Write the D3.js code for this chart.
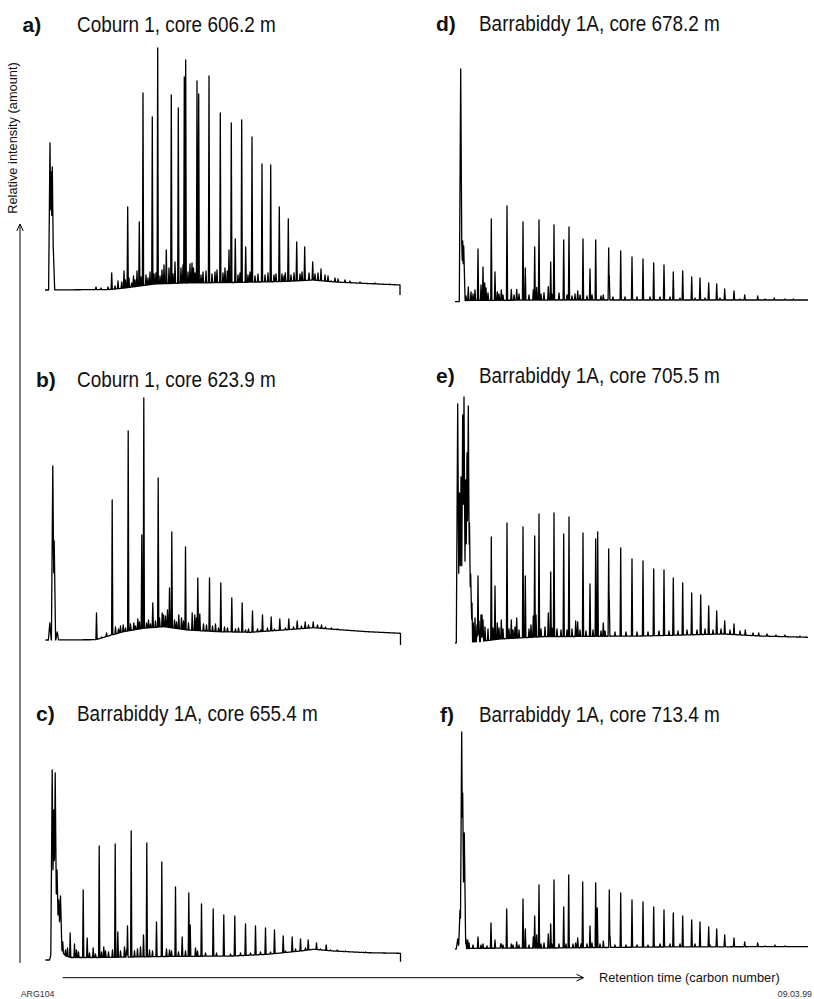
<!DOCTYPE html>
<html>
<head>
<meta charset="utf-8">
<script src="https://cdn.jsdelivr.net/npm/d3@7"></script>
<style>
  html, body { margin: 0; padding: 0; background: #fff; }
  svg { display: block; font-family: "Liberation Sans", Arial, Helvetica, sans-serif; }
</style>
</head>
<body>
<svg id="chart" width="814" height="999"></svg>
<script>
// Gas chromatograms of saturate fractions, six core samples.
// Retention is in relative units along each trace (0 = injection end of the trace),
// intensity is in relative units above the trace zero level.

const panelLabels = ["a)", "b)", "c)", "d)", "e)", "f)"];
const panelTitles = [
  "Coburn 1, core 606.2 m",
  "Coburn 1, core 623.9 m",
  "Barrabiddy 1A, core 655.4 m",
  "Barrabiddy 1A, core 678.2 m",
  "Barrabiddy 1A, core 705.5 m",
  "Barrabiddy 1A, core 713.4 m"
];
const yAxisLabel = "Relative intensity (amount)";
const xAxisLabel = "Retention time (carbon number)";
const figureCode = "ARG104";
const figureDate = "09.03.99";

// ---- a) Coburn 1, 606.2 m ----
const solventA = [[5, 147], [6.2, 118], [7.3, 123], [8.3, 42]];
const baselineA = [[0, 0], [65, 0.5], [80, 2], [95, 4], [110, 6], [140, 7], [190, 7.5], [240, 8.5], [268, 10], [290, 8], [322, 6.5], [355, 5]];
const peaksA = [[51, 3], [66.7, 17], [79, 19], [82.7, 83], [92, 19], [94.3, 68], [98, 197], [107.3, 173], [112.7, 242], [121.3, 40],
  [126.3, 195], [133.3, 182], [139.3, 213], [140.7, 230], [152, 209], [153.7, 196], [164, 214], [175.3, 177], [184, 40], [186.3, 167],
  [190.3, 51], [196.7, 170], [200.7, 43], [207, 153], [217, 126], [225.7, 125], [234.3, 83], [240.3, 17], [243.3, 71], [251.7, 48],
  [259.7, 43], [267.7, 28], [276, 21], [286, 9], [298.3, 5], [312.3, 3]];
const minorA = [[56, 2], [63, 3], [70, 4], [73, 9], [76.7, 8], [80.5, 10], [84, 12], [86.7, 7], [88.5, 14], [90, 10], [96, 13], [101, 15],
  [103, 12], [105, 18], [109, 16], [111, 17], [115, 14], [117, 20], [119, 25], [124, 22], [128, 16], [130, 28], [136, 22], [138, 25],
  [143, 18], [145, 26], [147, 27], [148.5, 22], [150, 17], [156, 15], [158, 18], [161, 19], [167, 16], [170, 18], [172, 20], [178, 17],
  [180, 22], [182.3, 19], [193, 15], [195, 17], [203, 15], [205, 18], [210, 14], [213, 16], [220, 15], [223, 17], [229, 15], [231, 16],
  [237, 16], [239, 14], [246, 15], [249, 17], [255, 16], [257, 18], [264, 17], [270, 16], [273, 17], [280, 15], [283, 14], [290, 12],
  [293, 11], [300, 10], [305, 9], [315, 8], [330, 7], [345, 6]];
const endDropA = -5;

// ---- b) Coburn 1, 623.9 m ----
const solventB = [[4.3, 17], [7.3, 174], [8.7, 99], [11.7, 8]];
const baselineB = [[0, 0], [50, 0.3], [55, 1.7], [78, 8.3], [98, 11.7], [118, 13.3], [142, 10], [172, 8.3], [205, 7.7], [238, 10], [268, 12.3], [288, 10.7], [322, 8.3], [355, 6.7]];
const peaksB = [[51, 27], [66.7, 140], [82.7, 209], [96.3, 105], [98.3, 242], [107.3, 37], [112.7, 162], [124, 52], [126.3, 108], [133.3, 25],
  [140, 93], [152.3, 62], [164, 62], [175.3, 57], [186.3, 42], [196.7, 37], [207, 29], [217, 25], [225.7, 23], [234.3, 21], [243.3, 21],
  [251.7, 19], [259.7, 18], [267.7, 18], [276, 15], [286, 12]];
const minorB = [[56, 3], [61, 7], [66, 6], [70, 13], [73, 11], [75, 14], [77.7, 15], [80, 12], [85, 16], [88.3, 17], [90, 14], [92.3, 21],
  [94, 18], [101, 17], [103, 20], [105, 16], [110, 19], [114, 22], [116.7, 27], [118, 25], [120, 24], [122, 30], [129, 20], [131, 18],
  [136, 22], [138, 19], [143, 17], [146.7, 27], [149.3, 25], [151, 22], [154.3, 26], [158, 16], [161, 15], [167, 14], [170, 16], [173, 12],
  [179, 13], [182, 12], [190, 11], [193, 12], [200, 10], [203, 11], [212, 11], [215, 10], [222, 12], [229, 11], [240, 12], [248, 13],
  [256, 14], [263, 15], [272, 15], [280, 13], [292, 11], [300, 9], [315, 8], [335, 7]];
const endDropB = -5;

// ---- c) Barrabiddy 1A, 655.4 m ----
const solventC = [[6.7, 190], [8.2, 150], [9.7, 187], [11.5, 90], [13.3, 60], [15, 64]];
const baselineC = [[0, 0], [4, 0], [12, 30], [14, 20], [17, 8], [20, 4], [25, 2.5], [55, 2.5], [120, 3.5], [188, 4], [222, 5.7], [255, 9], [268, 10.7], [288, 9], [322, 7.3], [355, 6.7]];
const peaksC = [[17.3, 18], [24.7, 27], [37.7, 70], [41.7, 22], [53.7, 114], [69.7, 116], [72.3, 28], [82, 34], [85.7, 129], [98, 25],
  [101.3, 117], [111, 38], [116.3, 98], [130, 73], [136.7, 23], [143.3, 67], [144.7, 35], [156, 56], [167.7, 51], [178.3, 45], [189.3, 44],
  [200, 36], [210, 34], [220, 32], [229, 30], [237.7, 24], [246.7, 23], [255, 21], [262.7, 20], [271, 17], [280.7, 15], [291.7, 10], [305, 8]];
const minorC = [[20, 10], [22, 12], [29, 16], [31, 10], [33, 8], [44, 7], [47.7, 12], [50, 6], [56, 8], [58.3, 13], [60, 9], [63, 8],
  [67, 10], [75, 9], [79, 13], [81, 10], [89, 9], [92, 11], [95, 13], [104, 10], [107, 9], [121, 11], [124, 10], [126, 9], [133, 8],
  [140, 9], [150, 12], [152, 9], [160, 7], [171, 7], [185, 6], [195, 7], [205, 7], [215, 8], [225, 8], [240, 9], [250, 11], [260, 12],
  [275, 11], [285, 10], [300, 9], [320, 8], [340, 7]];
const endDropC = -1.7;

// ---- d) Barrabiddy 1A, 678.2 m ----
const solventD = [[5.7, 233], [7, 50], [7.7, 61], [8.7, 56]];
const baselineD = [[0, 0.3], [4, 0.5], [10, 1.5], [100, 2], [200, 2], [300, 2], [353, 2]];
const peaksD = [[13.3, 15], [23, 53], [28, 35], [36.3, 83], [40, 30], [52, 96], [68, 80], [70.3, 34], [79.7, 55], [84, 82], [95.7, 40],
  [99, 77], [108.7, 62], [114, 75], [128, 63], [135, 33], [140.7, 62], [153.7, 54], [154.3, 26], [165.7, 51], [177, 45], [188, 43],
  [198.7, 39], [209, 37], [218.3, 30], [227.7, 31], [236.7, 25], [245, 24], [253.7, 19], [261.7, 18], [269.7, 13], [279, 11], [289.7, 7],
  [302.7, 6], [319.3, 4], [338.3, 3]];
const minorD = [[11, 6], [16, 10], [18, 8], [20, 12], [26, 17], [29.7, 19], [31, 14], [33, 9], [42.3, 10], [44, 8], [46.3, 12], [48, 7],
  [56.3, 12.7], [59, 7], [61.7, 12.7], [64, 8], [74, 7], [78.3, 12], [81.7, 14.7], [86, 8], [89, 9.3], [93.3, 15.3], [97, 8], [104, 9],
  [112, 7], [117, 6], [120, 8], [122.7, 11], [125, 7], [132, 6], [137, 7], [146, 6], [148.3, 7], [158, 5], [170, 5], [182, 5], [195, 5],
  [205, 5], [215, 5], [225, 4], [240, 4], [250, 4], [265, 4], [285, 3], [310, 3], [330, 3]];

// ---- e) Barrabiddy 1A, 705.5 m ----
const solventE = [[2.7, 239], [4.5, 150], [6, 166], [7.7, 228], [9, 246], [10.7, 163], [12, 190], [13.3, 237], [14.5, 120], [15.7, 69]];
const baselineE = [[0, 0], [16, 1], [25, 1.5], [45, 4], [88, 6.3], [188, 7], [268, 9], [305, 7], [353, 5.7]];
const peaksE = [[23, 67], [27, 28], [36.3, 106], [40, 57], [46.3, 23], [52, 120], [56.3, 23], [61.7, 25], [68, 116], [70.3, 67], [79.7, 107],
  [84, 129], [95.7, 71], [99, 130], [108.7, 109], [114, 126], [122.7, 21], [128, 110], [135, 59], [140.7, 104], [142.7, 111], [153.7, 94],
  [154.3, 43], [165.7, 95], [177, 84], [188, 82], [198.7, 74], [209, 73], [218.3, 65], [227.7, 60], [236.7, 50], [245.7, 48], [253.7, 37],
  [261.7, 32], [269.7, 22], [279, 19], [290.3, 13], [303.7, 10], [321, 8]];
const minorE = [[17, 40], [18.3, 20], [20, 25], [22, 18], [24, 22], [26, 28], [28, 23], [30, 16], [33, 14], [38, 15], [42.3, 20], [44, 15],
  [48, 14], [54, 14], [58, 13], [60, 16], [64, 13], [74, 14], [76, 18], [78.3, 27], [81, 28], [86, 14], [90, 16], [93.3, 30], [97, 15],
  [102, 14], [106, 13], [112, 13], [117, 14], [120.7, 22], [125, 13], [131, 12], [138, 13], [146, 12], [148.3, 20], [150, 12], [160, 11],
  [171, 11], [182, 11], [193, 11], [204, 12], [214, 12], [223, 12], [232, 13], [242, 13], [250, 14], [258, 13], [266, 14], [275, 13],
  [285, 12], [298, 10], [312, 9], [330, 8], [345, 7]];

// ---- f) Barrabiddy 1A, 713.4 m ----
const solventF = [[2.7, 10], [5, 39], [6.7, 217], [7.7, 156], [9.3, 116]];
const baselineF = [[0, 0], [20, 0.7], [100, 1], [200, 2], [300, 2.3], [353, 2.3]];
const peaksF = [[12.7, 9], [23, 12], [36, 26], [40, 9], [46.3, 5], [51.7, 40], [56.3, 5], [61.7, 7], [68, 50], [70.3, 20], [79.7, 33],
  [84, 64], [89, 6], [95.7, 25], [99, 69], [108.7, 42], [113.7, 74], [122.7, 11], [127.7, 67], [135, 23], [140.7, 66], [142.3, 41],
  [154.3, 59], [155, 13], [165.7, 56], [177, 49], [188, 47], [198.7, 42], [209, 39], [218.3, 36], [227.7, 33], [236.7, 29], [245, 27],
  [253.7, 22], [261.7, 20], [269.7, 14], [279, 11], [289.7, 7], [302.7, 6], [320, 4]];
const minorF = [[11, 10], [14, 6], [18, 4], [26, 4], [28, 5], [32, 3], [45.7, 5], [48, 4], [58, 4], [64, 4], [74, 4], [78.3, 12], [80, 8],
  [81.7, 14], [86, 5], [93.3, 15], [97, 5], [104, 5], [111, 5], [118, 5], [120.7, 6], [122.7, 11], [126, 5], [132, 5], [137, 6], [145, 5],
  [148.3, 8], [160, 4], [171, 4], [182, 4], [193, 4], [205, 5], [215, 5], [225, 5], [240, 5], [255, 4], [270, 4], [290, 3], [310, 3], [330, 3]];

// ---- layout ----
const svg = d3.select("#chart");

const panels = [
  { label: panelLabels[0], title: panelTitles[0], solvent: solventA, baseline: baselineA, peaks: peaksA, minor: minorA, endDrop: endDropA,
    left: 45, zero: 290, labelX: 22.5, titleX: 77, titleY: 32 },
  { label: panelLabels[1], title: panelTitles[1], solvent: solventB, baseline: baselineB, peaks: peaksB, minor: minorB, endDrop: endDropB,
    left: 45.5, zero: 640, labelX: 36, titleX: 77, titleY: 387 },
  { label: panelLabels[2], title: panelTitles[2], solvent: solventC, baseline: baselineC, peaks: peaksC, minor: minorC, endDrop: endDropC,
    left: 45.5, zero: 960, labelX: 36, titleX: 77, titleY: 721 },
  { label: panelLabels[3], title: panelTitles[3], solvent: solventD, baseline: baselineD, peaks: peaksD, minor: minorD, endDrop: null,
    left: 455, zero: 302, labelX: 436, titleX: 479, titleY: 31 },
  { label: panelLabels[4], title: panelTitles[4], solvent: solventE, baseline: baselineE, peaks: peaksE, minor: minorE, endDrop: null,
    left: 455, zero: 643, labelX: 436, titleX: 479, titleY: 383 },
  { label: panelLabels[5], title: panelTitles[5], solvent: solventF, baseline: baselineF, peaks: peaksF, minor: minorF, endDrop: null,
    left: 455, zero: 949, labelX: 440, titleX: 479, titleY: 722 }
];

const PEAK_HALF_WIDTH = 0.6;
const MINOR_HALF_WIDTH = 0.6;
const SOLVENT_HALF_WIDTH = 1.4;
const STEP = 0.25;

// Build a chromatogram trace: baseline drift plus triangular peaks (max-combined).
function buildTrace(p) {
  const base = d3.scaleLinear()
    .domain(p.baseline.map(d => d[0]))
    .range(p.baseline.map(d => d[1]))
    .clamp(true);
  const tEnd = p.baseline[p.baseline.length - 1][0];
  const all = []
    .concat(p.peaks.map(([t, h]) => ({ t, h, w: PEAK_HALF_WIDTH })))
    .concat(p.minor.map(([t, h]) => ({ t, h, w: MINOR_HALF_WIDTH })))
    .concat(p.solvent.map(([t, h]) => ({ t, h, w: SOLVENT_HALF_WIDTH })));
  all.forEach(k => { k.a = Math.max(0, k.h - base(k.t)); });

  let ts = d3.range(0, tEnd, STEP).concat([tEnd]);
  all.forEach(k => ts.push(k.t, k.t - k.w, k.t + k.w));
  ts = Array.from(new Set(ts.filter(t => t >= 0 && t <= tEnd).map(t => +t.toFixed(3)))).sort((a, b) => a - b);

  const pts = ts.map(t => {
    let m = 0;
    for (const k of all) {
      const d = Math.abs(t - k.t);
      if (d < k.w) {
        const v = k.a * (1 - d / k.w);
        if (v > m) m = v;
      }
    }
    return [t, base(t) + m];
  });
  if (p.endDrop !== null) pts.push([tEnd, p.endDrop]);
  return { pts, tEnd };
}

panels.forEach(p => {
  const { pts, tEnd } = buildTrace(p);
  const x = d3.scaleLinear().domain([0, tEnd]).range([p.left, p.left + tEnd]);
  const y = d3.scaleLinear().domain([0, 260]).range([p.zero, p.zero - 260]);
  const line = d3.line().x(d => x(d[0])).y(d => y(d[1]));

  const g = svg.append("g").attr("class", "panel");
  g.append("path")
    .attr("d", line(pts))
    .attr("fill", "none")
    .attr("stroke", "#000")
    .attr("stroke-width", 1.3)
    .attr("stroke-linejoin", "round");

  g.append("text")
    .attr("x", p.labelX)
    .attr("y", p.titleY)
    .attr("font-size", 21)
    .attr("font-weight", "bold")
    .attr("fill", "#111")
    .text(p.label);

  g.append("text")
    .attr("transform", `translate(${p.titleX},${p.titleY}) scale(0.88,1)`)
    .attr("font-size", 21.5)
    .attr("fill", "#111")
    .text(p.title);
});

// Axis arrows
const axes = svg.append("g").attr("stroke", "#000").attr("fill", "none").attr("stroke-width", 1);
axes.append("line").attr("x1", 20).attr("y1", 963).attr("x2", 20).attr("y2", 224);
axes.append("polyline").attr("points", "16.8,231 20,224 23.2,231");
axes.append("line").attr("x1", 62.7).attr("y1", 977.7).attr("x2", 583).attr("y2", 977.7);
axes.append("polyline").attr("points", "576.5,974.3 583.5,977.7 576.5,981.1");

svg.append("text")
  .attr("transform", "translate(16.5,138) rotate(-90)")
  .attr("text-anchor", "middle")
  .attr("font-size", 12.8)
  .attr("fill", "#111")
  .text(yAxisLabel);

svg.append("text")
  .attr("x", 599)
  .attr("y", 982)
  .attr("font-size", 12.8)
  .attr("fill", "#111")
  .text(xAxisLabel);

svg.append("text")
  .attr("x", 20.7).attr("y", 997)
  .attr("font-size", 8.8)
  .attr("fill", "#333")
  .text(figureCode);

svg.append("text")
  .attr("x", 812).attr("y", 997)
  .attr("text-anchor", "end")
  .attr("font-size", 8.8)
  .attr("fill", "#333")
  .text(figureDate);
</script>
</body>
</html>
